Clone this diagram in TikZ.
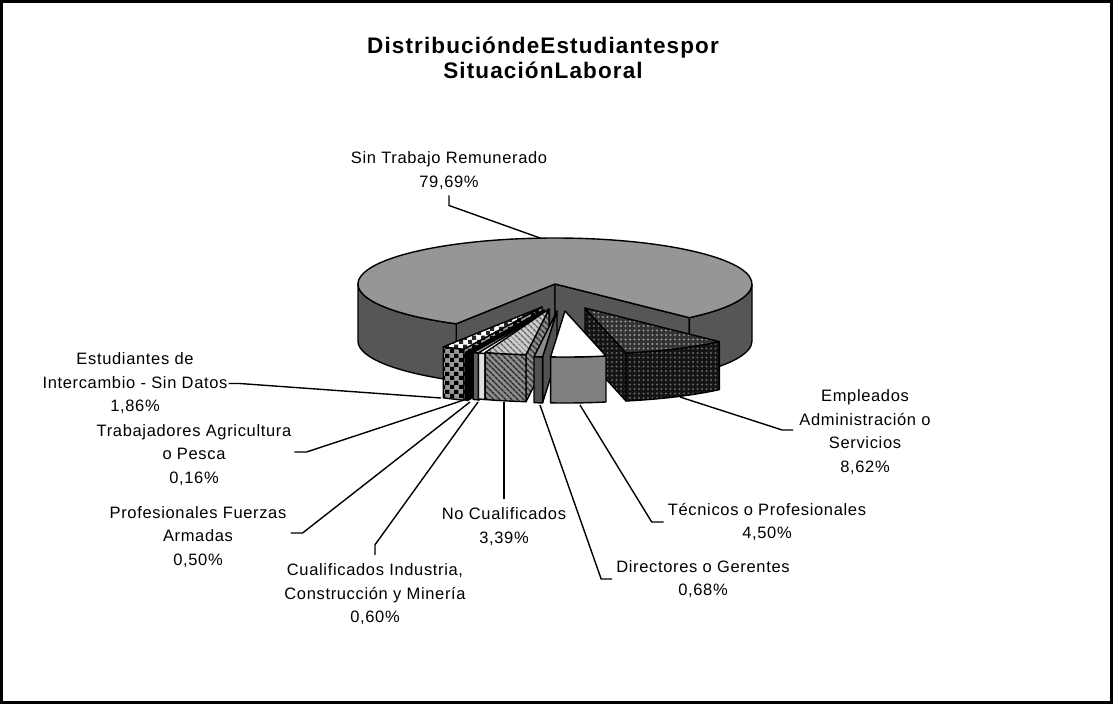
\documentclass[tikz,border=0pt]{standalone}
\usepackage{fontspec}
\setmainfont{Liberation Sans}
\newfontfamily\lblfont[LetterSpace=4]{Liberation Sans}
\newfontfamily\ttlfont[LetterSpace=5]{Liberation Sans}
\usetikzlibrary{patterns,patterns.meta}
\definecolor{pietop}{RGB}{150,150,150}
\definecolor{pieside}{RGB}{86,86,86}
% cuadros del sector de intercambio
\pgfdeclarepatternformonly{estcheck}{\pgfpointorigin}{\pgfpoint{9pt}{9pt}}{\pgfpoint{9pt}{9pt}}{%
  \pgfpathrectangle{\pgfpointorigin}{\pgfpoint{4.5pt}{4.5pt}}%
  \pgfpathrectangle{\pgfpoint{4.5pt}{4.5pt}}{\pgfpoint{4.5pt}{4.5pt}}%
  \pgfusepath{fill}}
\begin{document}
\begin{tikzpicture}[x=1pt,y=-1pt,
    rim/.style={x radius=197,y radius=46},
    cara/.style={draw,line width=1.4pt,line join=round},
    maintop/.style={cara,fill=pietop}, mainside/.style={cara,fill=pieside},
    esttop/.style={cara,preaction={fill=white},pattern=estcheck,pattern color=black!85},
    estside/.style={cara,preaction={fill=black!40},pattern=estcheck,pattern color=black},
    trabsty/.style={cara,fill=black},
    proftop/.style={cara,fill=black!35}, profside/.style={cara,fill=black!62},
    cualtop/.style={cara,fill=white}, cualside/.style={cara,fill=black!12},
    noctop/.style={cara,preaction={fill=black!20},pattern={Lines[angle=-45,distance=4pt,line width=1.5pt]},pattern color=black!60},
    nocside/.style={cara,preaction={fill=black!45},pattern={Lines[angle=-45,distance=4pt,line width=1.5pt]},pattern color=black!85},
    emptop/.style={cara,preaction={fill=black!80},pattern={Dots[radius=1.2pt,distance=4.5pt]},pattern color=black!40},
    empside/.style={cara,preaction={fill=black!92},pattern={Dots[radius=1.2pt,distance=4.5pt]},pattern color=black!60},
    dirtop/.style={cara,fill=black!45}, dirside/.style={cara,fill=black!68},
    tectop/.style={cara,fill=white}, tecside/.style={cara,fill=black!50},
    lbl/.style={font=\lblfont\fontsize{16.5}{23.5}\selectfont,align=center,inner sep=1pt},
    lead/.style={line width=1.4pt}]
  \useasboundingbox (0,0) rectangle (1113,704);
  \draw[line width=3pt,fill=white] (1.5,1.5) rectangle (1111.5,702.5);
  \node[font=\ttlfont\bfseries\fontsize{22.5}{25}\selectfont,align=center] (titulo) at (543,58)
    {DistribucióndeEstudiantespor\\SituaciónLaboral};

  % sector principal
  \coordinate (cmain) at (555,284);
  \draw[mainside] (cmain) -- ([shift={(120.1:197 and 46)}]cmain) -- ++(0,57) -- ([shift={(0,57)}]cmain) -- cycle;
  \draw[mainside] (cmain) -- ([shift={(47:197 and 46)}]cmain) -- ++(0,57) -- ([shift={(0,57)}]cmain) -- cycle;
  \draw[mainside] ([shift={(0:197 and 46)}]cmain) arc[rim,start angle=0,end angle=47] -- ++(0,57) arc[rim,start angle=47,end angle=0] -- cycle;
  \draw[mainside] ([shift={(120.1:197 and 46)}]cmain) arc[rim,start angle=120.1,end angle=180] -- ++(0,57) arc[rim,start angle=180,end angle=120.1] -- cycle;
  \draw[maintop] (cmain) -- ([shift={(47:197 and 46)}]cmain) arc[rim,start angle=47,end angle=-239.9] -- cycle;

  % intercambio
  \coordinate (aest) at (542,307);
  \draw[estside] (aest) -- ([shift={(113.4:197 and 46)}]aest) -- ++(0,51) -- ([shift={(0,51)}]aest) -- cycle;
  \draw[estside] ([shift={(113.4:197 and 46)}]aest) arc[rim,start angle=113.4,end angle=120.1] -- ++(0,51) arc[rim,start angle=120.1,end angle=113.4] -- cycle;
  \draw[esttop] (aest) -- ([shift={(113.4:197 and 46)}]aest) arc[rim,start angle=113.4,end angle=120.1] -- cycle;
  % agricultura
  \coordinate (atrab) at (544,310);
  \draw[trabsty] (atrab) -- ([shift={(112.8:197 and 46)}]atrab) -- ++(0,48) -- ([shift={(0,48)}]atrab) -- cycle;
  \draw[trabsty] ([shift={(112.8:197 and 46)}]atrab) arc[rim,start angle=112.8,end angle=113.4] -- ++(0,48) arc[rim,start angle=113.4,end angle=112.8] -- cycle;
  \draw[trabsty] (atrab) -- ([shift={(112.8:197 and 46)}]atrab) arc[rim,start angle=112.8,end angle=113.4] -- cycle;
  % fuerzas armadas
  \coordinate (aprof) at (549.5,310);
  \draw[profside] (aprof) -- ([shift={(111:197 and 46)}]aprof) -- ++(0,47) -- ([shift={(0,47)}]aprof) -- cycle;
  \draw[profside] ([shift={(111:197 and 46)}]aprof) arc[rim,start angle=111,end angle=112.8] -- ++(0,47) arc[rim,start angle=112.8,end angle=111] -- cycle;
  \draw[proftop] (aprof) -- ([shift={(111:197 and 46)}]aprof) arc[rim,start angle=111,end angle=112.8] -- cycle;
  % industria
  \coordinate (acual) at (549,310);
  \draw[cualside] (acual) -- ([shift={(108.9:197 and 46)}]acual) -- ++(0,46) -- ([shift={(0,46)}]acual) -- cycle;
  \draw[cualside] ([shift={(108.9:197 and 46)}]acual) arc[rim,start angle=108.9,end angle=111] -- ++(0,46) arc[rim,start angle=111,end angle=108.9] -- cycle;
  \draw[cualtop] (acual) -- ([shift={(108.9:197 and 46)}]acual) arc[rim,start angle=108.9,end angle=111] -- cycle;
  % no cualificados
  \coordinate (anoc) at (549,309);
  \draw[nocside] (anoc) -- ([shift={(96.7:197 and 46)}]anoc) -- ++(0,47) -- ([shift={(0,47)}]anoc) -- cycle;
  \draw[nocside] ([shift={(96.7:197 and 46)}]anoc) arc[rim,start angle=96.7,end angle=108.9] -- ++(0,47) arc[rim,start angle=108.9,end angle=96.7] -- cycle;
  \draw[noctop] (anoc) -- ([shift={(96.7:197 and 46)}]anoc) arc[rim,start angle=96.7,end angle=108.9] -- cycle;
  % empleados
  \coordinate (aemp) at (585,308);
  \draw[empside] (aemp) -- ([shift={(78:197 and 46)}]aemp) -- ++(0,48) -- ([shift={(0,48)}]aemp) -- cycle;
  \draw[empside] ([shift={(47:197 and 46)}]aemp) arc[rim,start angle=47,end angle=78] -- ++(0,48) arc[rim,start angle=78,end angle=47] -- cycle;
  \draw[emptop] (aemp) -- ([shift={(47:197 and 46)}]aemp) arc[rim,start angle=47,end angle=78] -- cycle;
  % directores
  \coordinate (adir) at (557,311);
  \draw[dirside] (adir) -- ([shift={(94.2:197 and 46)}]adir) -- ++(0,46) -- ([shift={(0,46)}]adir) -- cycle;
  \draw[dirside] ([shift={(94.2:197 and 46)}]adir) arc[rim,start angle=94.2,end angle=96.7] -- ++(0,46) arc[rim,start angle=96.7,end angle=94.2] -- cycle;
  \draw[dirtop] (adir) -- ([shift={(94.2:197 and 46)}]adir) arc[rim,start angle=94.2,end angle=96.7] -- cycle;
  % tecnicos
  \coordinate (atec) at (565,311);
  \draw[tecside] ([shift={(78:197 and 46)}]atec) arc[rim,start angle=78,end angle=94.2] -- ++(0,46) arc[rim,start angle=94.2,end angle=78] -- cycle;
  \draw[tectop] (atec) -- ([shift={(78:197 and 46)}]atec) arc[rim,start angle=78,end angle=94.2] -- cycle;

  % etiquetas
  \node[lbl] (lsin) at (449,170.5) {Sin Trabajo Remunerado\\79,69\%};
  \node[lbl] (lest) at (135,383.5) {Estudiantes de\\Intercambio - Sin Datos\\1,86\%};
  \node[lbl] (ltrab) at (194,455) {Trabajadores Agricultura\\o Pesca\\0,16\%};
  \node[lbl] (lprof) at (198,537) {Profesionales Fuerzas\\Armadas\\0,50\%};
  \node[lbl] (lcual) at (375,594.5) {Cualificados Industria,\\Construcción y Minería\\0,60\%};
  \node[lbl] (lnoc) at (504,526.5) {No Cualificados\\3,39\%};
  \node[lbl] (ldir) at (703,579) {Directores o Gerentes\\0,68\%};
  \node[lbl] (ltec) at (767,522) {Técnicos o Profesionales\\4,50\%};
  \node[lbl] (lemp) at (865,432) {Empleados\\Administración o\\Servicios\\8,62\%};

  % lineas guia
  \coordinate (psin) at (540,238);
  \coordinate (pest) at (441,398);
  \coordinate (ptrab) at (464,400);
  \coordinate (pprof) at (470,402);
  \coordinate (pcual) at (478,402);
  \coordinate (pnoc) at (505,402);
  \coordinate (pdir) at (540,405);
  \coordinate (ptec) at (580,405);
  \coordinate (pemp) at (680,397);
  \draw[lead] ([yshift=-5pt]lsin.south) -- ++(0,10) -- (psin);
  \draw[lead] (lest.east) -- ++(11,0) -- (pest);
  \draw[lead] ([xshift=2pt,yshift=3pt]ltrab.east) -- ++(12,0) -- (ptrab);
  \draw[lead] ([xshift=3pt,yshift=4pt]lprof.east) -- ++(12,0) -- (pprof);
  \draw[lead] ([yshift=8pt]lcual.north) -- ++(0,-10) -- (pcual);
  \draw[lead] ([yshift=8pt]lnoc.north) -- (lnoc.north |- pnoc);
  \draw[lead] ([xshift=-3pt]ldir.west) -- ++(-11,0) -- (pdir);
  \draw[lead] ([xshift=-3pt]ltec.west) -- ++(-12,0) -- (ptec);
  \draw[lead] ([xshift=-5pt,yshift=2pt]lemp.west) -- ++(-11,0) -- (pemp);
\end{tikzpicture}
\end{document}
